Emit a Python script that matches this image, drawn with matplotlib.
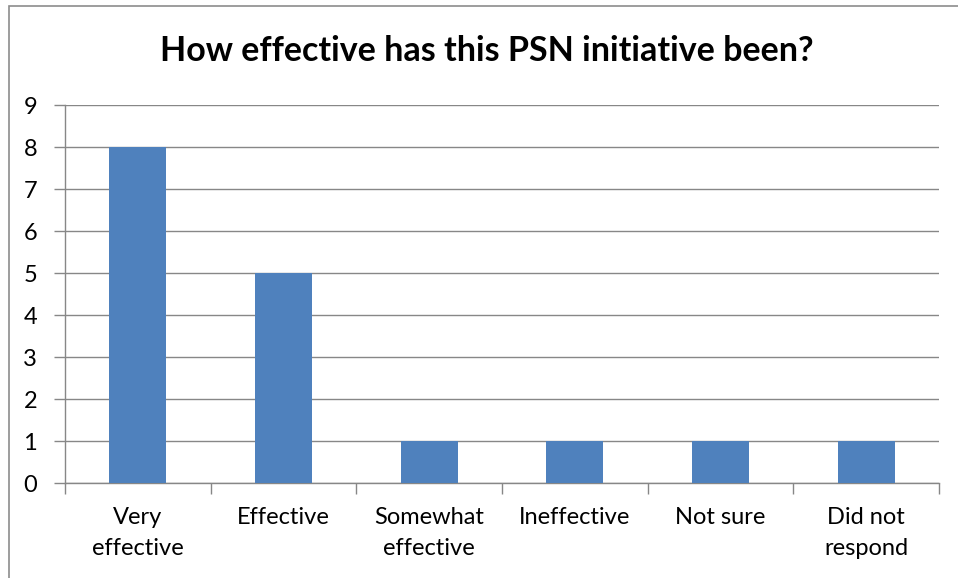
import matplotlib
matplotlib.use("Agg")
import matplotlib.pyplot as plt
from matplotlib.patches import Rectangle

# survey responses
categories = ["Very\neffective", "Effective", "Somewhat\neffective",
              "Ineffective", "Not sure", "Did not\nrespond"]
counts = [8, 5, 1, 1, 1, 1]
y_ticks = list(range(0, 10))

BAR_COLOR = "#4F81BD"
GRID_COLOR = "#878787"

plt.rcParams["font.family"] = ["Lato", "DejaVu Sans"]

fig = plt.figure(figsize=(9.58, 5.78), dpi=100)
ax = fig.add_axes([65 / 958, 1 - 483 / 578, (939 - 65) / 958, (483 - 105) / 578])

# chart-area outline (runs off the right and bottom edges)
fig.patches.append(Rectangle((8.5 / 958, -0.1), 1.2, 1.1 - 6.5 / 578,
                             transform=fig.transFigure, fill=False,
                             edgecolor="#8c8c8c", linewidth=1.2, clip_on=False))

x = range(len(categories))
ax.bar(x, counts, width=0.39, color=BAR_COLOR, zorder=3)

ax.set_xlim(-0.5, len(categories) - 0.5)
ax.set_ylim(0, 9)
ax.set_yticks(y_ticks)
ax.yaxis.grid(True, color=GRID_COLOR, linewidth=1.0, zorder=0)
ax.set_axisbelow(True)

# category labels centred, tick marks between categories
ax.set_xticks(list(x))
ax.set_xticklabels(categories, fontsize=17, linespacing=1.62)
ax.tick_params(axis="x", length=0, pad=17)
ax.set_xticks([i - 0.5 for i in range(len(categories) + 1)], minor=True)
ax.tick_params(axis="x", which="minor", length=8, width=1, color=GRID_COLOR)
ax.tick_params(axis="y", length=8, width=1, color=GRID_COLOR, labelsize=17, pad=12)

for side in ["top", "right"]:
    ax.spines[side].set_visible(False)
for side in ["left", "bottom"]:
    ax.spines[side].set_color(GRID_COLOR)
    ax.spines[side].set_linewidth(1.0)

fig.text(487 / 958, 1 - 51 / 578, "How effective has this PSN initiative been?",
         ha="center", va="center", fontsize=24.5, fontweight="bold")

fig.savefig("out.png", dpi=100)
